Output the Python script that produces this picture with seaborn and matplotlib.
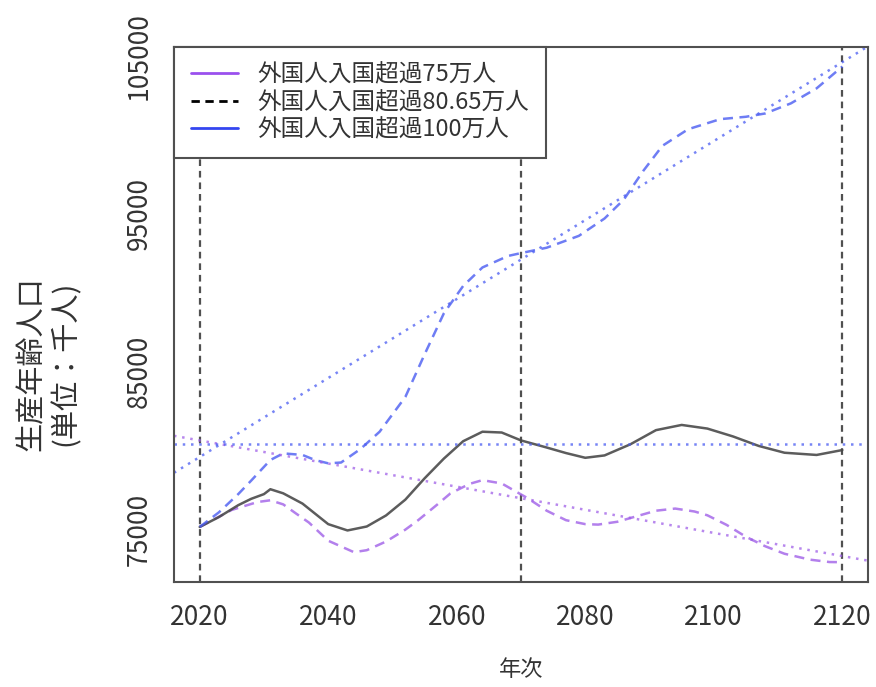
import matplotlib
matplotlib.use("Agg")
import matplotlib.pyplot as plt
import seaborn as sns
from matplotlib.lines import Line2D

sns.set_style("white")
plt.rcParams['font.family'] = ['Noto Sans CJK JP', 'DejaVu Sans']

# series (working-age population, thousand people)
years_75 = [2020, 2025, 2029, 2031, 2033, 2035, 2037, 2040, 2044, 2046, 2049, 2052, 2054, 2057,
            2059, 2062, 2064, 2067, 2071, 2074, 2077, 2080, 2082, 2085, 2088, 2091, 2094, 2097,
            2099, 2102, 2105, 2108, 2111, 2115, 2118, 2120]
pop_75 = [75170, 76250, 76750, 76860, 76600, 76020, 75450, 74300, 73575, 73700, 74250, 75000, 75600, 76600,
          77290, 77900, 78135, 77925, 77000, 76200, 75600, 75350, 75320, 75500, 75850, 76200, 76335, 76150,
          75910, 75300, 74550, 73950, 73475, 73100, 72950, 72940]

years_8065 = [2020, 2023, 2026, 2028, 2030, 2031, 2033, 2036, 2038, 2040, 2043, 2046, 2049, 2052, 2055,
              2058, 2061, 2064, 2067, 2070, 2074, 2077, 2080, 2083, 2087, 2091, 2095, 2099, 2103, 2107,
              2111, 2116, 2120]
pop_8065 = [75170, 75800, 76550, 76950, 77250, 77560, 77300, 76650, 76000, 75350, 74950, 75200, 75900, 76900, 78250,
            79500, 80600, 81200, 81150, 80650, 80200, 79850, 79550, 79700, 80400, 81300, 81630, 81400, 80900, 80300,
            79870, 79730, 80040]

years_100 = [2020, 2023, 2026, 2028, 2031, 2033, 2036, 2038, 2040, 2042, 2045, 2048, 2050, 2052, 2055, 2058,
             2061, 2064, 2068, 2070, 2074, 2079, 2083, 2086, 2089, 2092, 2096, 2101, 2105, 2108, 2112, 2116, 2120]
pop_100 = [75170, 76100, 77250, 78100, 79410, 79830, 79730, 79400, 79200, 79250, 80100, 81200, 82300, 83400, 86100, 88700,
           90430, 91600, 92330, 92510, 92850, 93600, 94700, 95900, 97700, 99300, 100350, 100990, 101140, 101350, 101990,
           102940, 104320]

# reference lines (value at 2020, change per year)
trend_names = ['75', 'flat', '100']
trend_at_2020 = [80650, 80420, 79600]
trend_slope = [-73.2, 0.0, 250.0]

marker_years = [2020, 2070, 2120]

legend_labels = ['外国人入国超過75万人', '外国人入国超過80.65万人', '外国人入国超過100万人']

purple = '#a060e8'
blue = '#4a5cf2'
grey = '#505050'

fig = plt.figure(figsize=(8.76, 6.87), dpi=100)
ax = fig.add_axes([0.1986, 0.1528, 0.7923, 0.7792])

for yr in marker_years:
    ax.axvline(yr, color=grey, lw=1.6, linestyle=(0, (3, 2.2)), zorder=1)

sns.lineplot(x=years_75, y=pop_75, ax=ax, color=purple, lw=1.8, alpha=0.8,
             linestyle=(0, (4, 2.6)))
sns.lineplot(x=years_8065, y=pop_8065, ax=ax, color='#4a4a4a', lw=1.8, alpha=0.9)
sns.lineplot(x=years_100, y=pop_100, ax=ax, color=blue, lw=1.8, alpha=0.8,
             linestyle=(0, (4, 2.6)))

trend_colors = [purple, blue, blue]
for a, s, c in zip(trend_at_2020, trend_slope, trend_colors):
    ax.axline((2020, a), slope=s, color=c, lw=1.8, alpha=0.75,
              linestyle=(0, (1, 2.3)))

# R-style 4% padding around the data
all_pop = pop_75 + pop_8065 + pop_100
all_years = years_75 + years_8065 + years_100
ypad = (max(all_pop) - min(all_pop)) * 0.04
xpad = (max(all_years) - min(all_years)) * 0.04
ax.set_ylim(min(all_pop) - ypad, max(all_pop) + ypad)
ax.set_xlim(min(all_years) - xpad, max(all_years) + xpad)

ax.set_xticks(range(2020, 2121, 20))
yt = list(range(75000, 105001, 5000))
ax.set_yticks(yt)
ax.set_yticklabels([str(v) if (v - 75000) % 10000 == 0 else '' for v in yt])
ax.tick_params(axis='both', direction='out', length=8.5, width=1.2, color=grey,
               labelsize=19, labelcolor='#333333', pad=7)
ax.tick_params(axis='y', labelrotation=90)
for lab in ax.get_yticklabels():
    lab.set_va('center')

for sp in ax.spines.values():
    sp.set_visible(True)
    sp.set_color(grey)
    sp.set_linewidth(1.5)

ax.set_xlabel('年次', fontsize=16, color='#333333', labelpad=20)
ax.set_ylabel('')
ax.text(-0.18, 0.408, '生産年齢人口\n(単位：千人)', transform=ax.transAxes, rotation=90,
        ha='center', va='center', multialignment='center', fontsize=21,
        color='#333333', linespacing=1.15)

handles = [Line2D([], [], color='#9a50ee', lw=2),
           Line2D([], [], color='black', lw=2, linestyle=(0, (3, 2))),
           Line2D([], [], color='#3446f0', lw=2)]
leg = ax.legend(handles, legend_labels, loc='upper left', bbox_to_anchor=(0, 1),
                borderaxespad=0, fancybox=False, framealpha=1, edgecolor=grey,
                fontsize=17, handlelength=2.0, handletextpad=0.8, labelspacing=0.18,
                borderpad=0.72, labelcolor='#333333')
leg.get_frame().set_linewidth(1.5)

fig.savefig('out.png', dpi=100)
